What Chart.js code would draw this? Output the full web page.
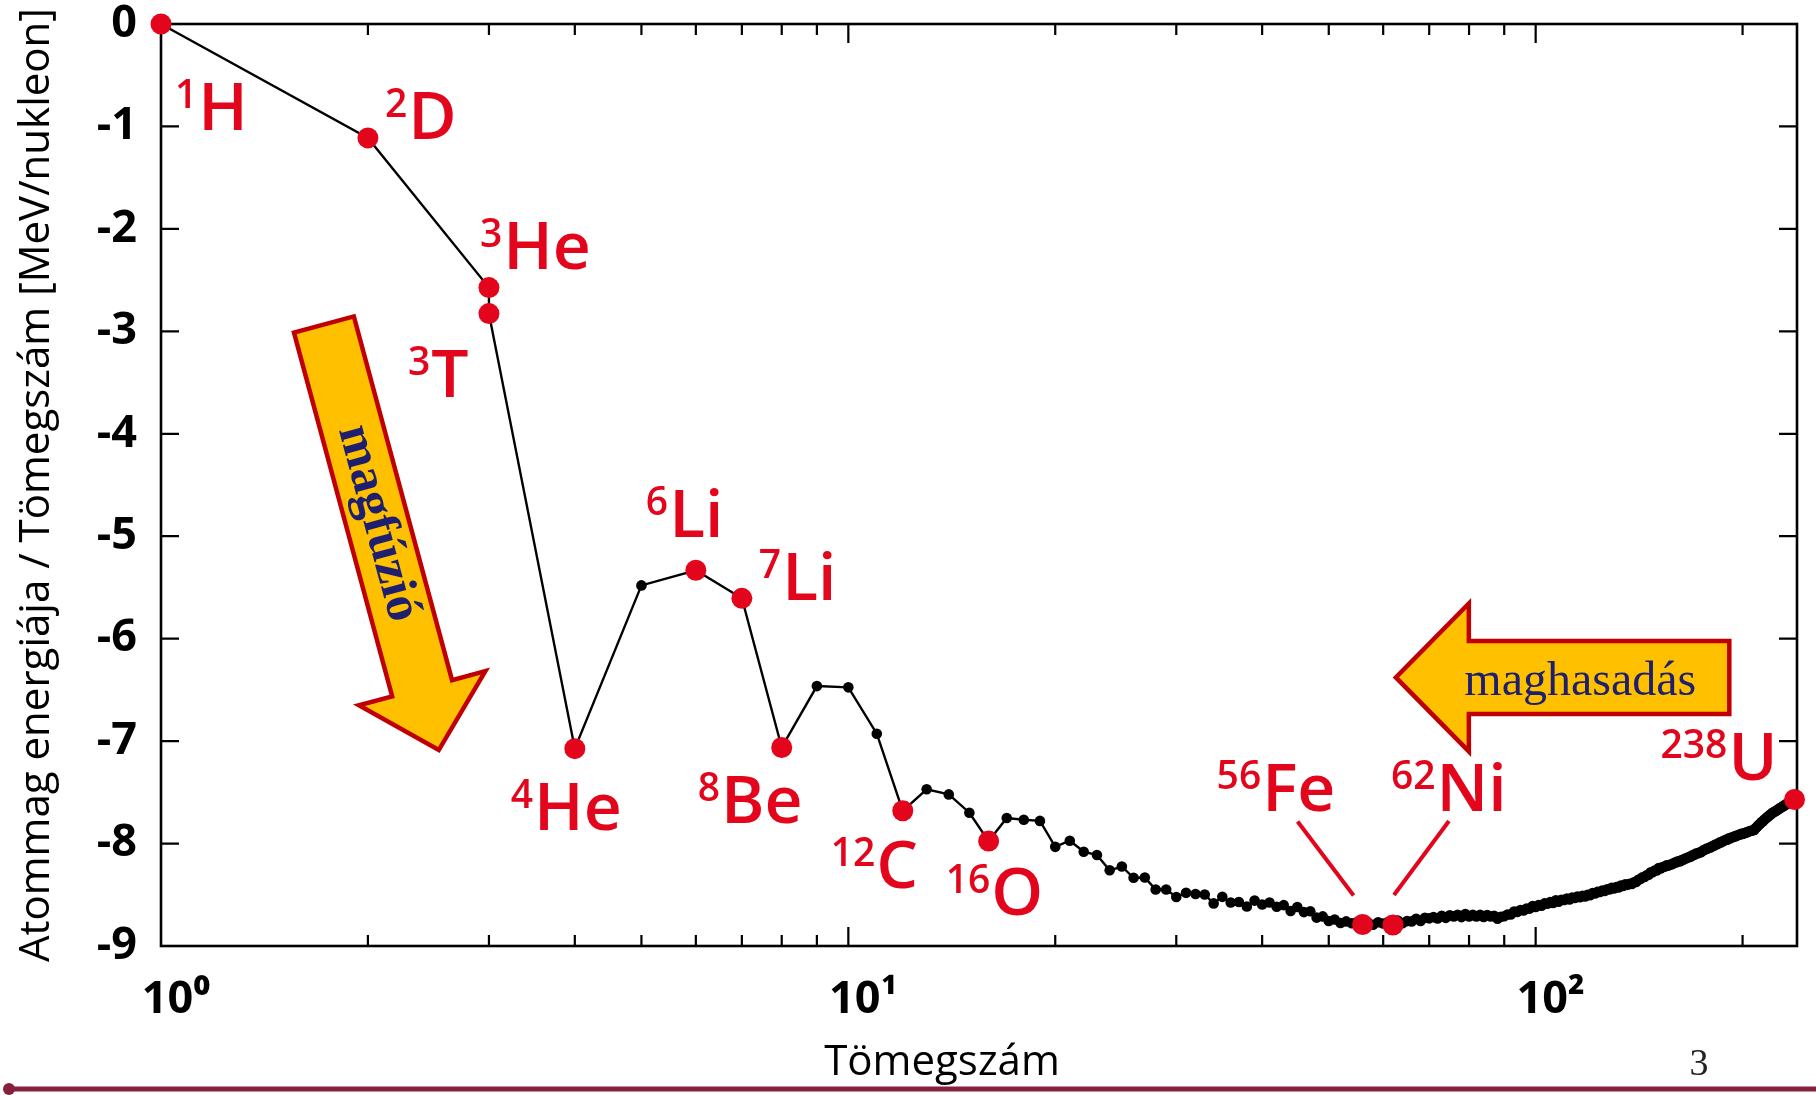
<!DOCTYPE html>
<html>
<head>
<meta charset="utf-8">
<script src="https://cdn.jsdelivr.net/npm/chart.js@4.4.1/dist/chart.umd.min.js"></script>
<style>
html,body{margin:0;padding:0;background:#fff;overflow:hidden}
canvas{display:block}
</style>
</head>
<body>
<canvas id="c" width="1816" height="1095"></canvas>
<script>
// ---------- DATA ----------
const massNumber = [
  1,2,3,3,4,5,6,7,8,9,10,
  11,12,13,14,15,16,17,18,19,20,
  21,22,23,24,25,26,27,28,29,30,
  31,32,33,34,35,36,37,38,39,40,
  41,42,43,44,45,46,47,48,49,50,
  51,52,53,54,55,56,57,58,59,60,
  61,62,63,64,65,66,67,68,69,70,
  71,72,73,74,75,76,77,78,79,80,
  81,82,83,84,85,86,87,88,89,90,
  91,92,93,94,95,96,97,98,99,100,
  101,102,103,104,105,106,107,108,109,110,
  111,112,113,114,115,116,117,118,119,120,
  121,122,123,124,125,126,127,128,129,130,
  131,132,133,134,135,136,137,138,139,140,
  141,142,143,144,145,146,147,148,149,150,
  151,152,153,154,155,156,157,158,159,160,
  161,162,163,164,165,166,167,168,169,170,
  171,172,173,174,175,176,177,178,179,180,
  181,182,183,184,185,186,187,188,189,190,
  191,192,193,194,195,196,197,198,199,200,
  201,202,203,204,205,206,207,208,209,210,
  211,212,213,214,215,216,217,218,219,220,
  221,222,223,224,225,226,227,228,229,230,
  231,232,233,234,235,236,237,238
];
// energy per nucleon [MeV/nukleon]
const energyPerNucleon = [
  0, -1.112, -2.573, -2.827,
  -7.074, -5.48, -5.332, -5.606, -7.062, -6.463, -6.475,
  -6.928, -7.680, -7.470, -7.520, -7.699, -7.976, -7.751, -7.767, -7.779, -8.032,
  -7.972, -8.080, -8.112, -8.261, -8.224, -8.334, -8.332, -8.448, -8.449, -8.521,
  -8.481, -8.493, -8.498, -8.584, -8.520, -8.575, -8.570, -8.614, -8.557, -8.595,
  -8.576, -8.617, -8.601, -8.658, -8.619, -8.669, -8.661, -8.723, -8.711, -8.756,
  -8.742, -8.776, -8.760, -8.778, -8.765, -8.790, -8.770, -8.792, -8.768, -8.781,
  -8.765, -8.795, -8.752, -8.777, -8.757, -8.760, -8.734, -8.756, -8.725, -8.730,
  -8.718, -8.732, -8.705, -8.725, -8.701, -8.711, -8.695, -8.718, -8.688, -8.711,
  -8.696, -8.711, -8.696, -8.717, -8.697, -8.712, -8.705, -8.733, -8.714, -8.710,
  -8.693, -8.693, -8.664, -8.667, -8.649, -8.654, -8.635, -8.635, -8.609, -8.620,
  -8.601, -8.607, -8.584, -8.587, -8.571, -8.580, -8.554, -8.567, -8.548, -8.551,
  -8.537, -8.545, -8.527, -8.532, -8.517, -8.523, -8.510, -8.517, -8.499, -8.505,
  -8.482, -8.488, -8.472, -8.473, -8.458, -8.463, -8.446, -8.449, -8.431, -8.438,
  -8.424, -8.428, -8.410, -8.414, -8.398, -8.403, -8.392, -8.394, -8.378, -8.376,
  -8.354, -8.347, -8.330, -8.327, -8.309, -8.304, -8.281, -8.280, -8.263, -8.262,
  -8.239, -8.244, -8.229, -8.227, -8.213, -8.215, -8.204, -8.202, -8.189, -8.184,
  -8.173, -8.174, -8.162, -8.159, -8.147, -8.142, -8.132, -8.130, -8.115, -8.112,
  -8.098, -8.097, -8.087, -8.084, -8.069, -8.064, -8.052, -8.049, -8.039, -8.035,
  -8.023, -8.018, -8.008, -8.005, -7.991, -7.989, -7.978, -7.973, -7.963, -7.963,
  -7.948, -7.949, -7.938, -7.936, -7.927, -7.927, -7.916, -7.914, -7.905, -7.906,
  -7.898, -7.897, -7.887, -7.886, -7.878, -7.875, -7.870, -7.868, -7.848, -7.836,
  -7.820, -7.810, -7.791, -7.785, -7.768, -7.759, -7.744, -7.737, -7.721, -7.714,
  -7.700, -7.694, -7.685, -7.680, -7.667, -7.662, -7.651, -7.645, -7.635, -7.631,
  -7.618, -7.615, -7.604, -7.601, -7.591, -7.586, -7.575, -7.570
];
// highlighted nuclei (index into the arrays above)
const highlightIndex  = [0, 1, 2, 3, 4, 6, 7, 8, 12, 16, 56, 62, 238];
const highlightSymbol = ['H','D','He','T','He','Li','Li','Be','C','O','Fe','Ni','U'];

const xMajorTicks = [1, 10, 100];
const xTickLabels = ['10\u2070', '10\u00B9', '10\u00B2'];
const yTickValues = [0, -1, -2, -3, -4, -5, -6, -7, -8, -9];
const yTickLabels = ['0', '-1', '-2', '-3', '-4', '-5', '-6', '-7', '-8', '-9'];

const xTitle = 'Tömegszám';
const yTitle = 'Atommag energiája / Tömegszám [MeV/nukleon]';
const fusionText = 'magfúzió';
const fissionText = 'maghasadás';
const pageNumber = '3';

// arrows, anchored in data coordinates [A, E]
const fusionArrow  = { from: [1.726, -2.933], to: [2.536, -7.087] };
const fissionArrow = { from: [191.3, -6.378], to: [62.6, -6.378] };

// ---------- STYLE / LAYOUT ----------
const RED = '#E3051B';
const NAVY = '#1E1F6F';
const ARROW_FILL = '#FFC000';
const ARROW_STROKE = '#C00000';
const SANS = '"Open Sans", "Noto Sans", sans-serif';
const SERIF = '"Liberation Serif", "Times New Roman", serif';

// label placement: [dx of superscript left edge, dy of baseline] relative to the point, px
const labelOffsets = [
  [14, 106], [17, 1], [-9, -19], [-81, 83], [-64, 81], [-50, -33], [17, 2],
  [-84, 76], [-72, 77], [-43, 74], [-146, -113], [-2, -114], [-134, -20]
];
// leader lines for Fe and Ni: [x0,y0,x1,y1] relative to the point
const leaderLines = { 10: [-65, -103, -9, -29], 11: [56, -104, 1, -30] };

const LABEL_MAIN = 66, LABEL_SUP = 39, SUP_RAISE = 22, SUP_GAP = 1;

function arrowPoly(ctx, x0, y0, x1, y1, shaftW, headW, headL) {
  const dx = x1 - x0, dy = y1 - y0, L = Math.hypot(dx, dy);
  const ux = dx / L, uy = dy / L, nx = -uy, ny = ux;
  const bx = x1 - ux * headL, by = y1 - uy * headL;
  const p = [
    [x0 + nx * shaftW / 2, y0 + ny * shaftW / 2],
    [bx + nx * shaftW / 2, by + ny * shaftW / 2],
    [bx + nx * headW / 2, by + ny * headW / 2],
    [x1, y1],
    [bx - nx * headW / 2, by - ny * headW / 2],
    [bx - nx * shaftW / 2, by - ny * shaftW / 2],
    [x0 - nx * shaftW / 2, y0 - ny * shaftW / 2]
  ];
  ctx.beginPath();
  ctx.moveTo(p[0][0], p[0][1]);
  for (let i = 1; i < p.length; i++) ctx.lineTo(p[i][0], p[i][1]);
  ctx.closePath();
  ctx.fillStyle = ARROW_FILL;
  ctx.fill();
  ctx.lineWidth = 4.5;
  ctx.lineJoin = 'miter';
  ctx.strokeStyle = ARROW_STROKE;
  ctx.stroke();
  return { ux, uy, L };
}

const decorPlugin = {
  id: 'decor',
  beforeDatasetsDraw(chart) {
    const { ctx, chartArea: a, scales: { x, y } } = chart;
    ctx.save();
    ctx.strokeStyle = '#000';
    ctx.lineWidth = 2.6;
    ctx.strokeRect(a.left, a.top, a.right - a.left, a.bottom - a.top);
    ctx.lineWidth = 2.2;
    ctx.beginPath();
    for (const d of xMajorTicks) {
      for (let m = 1; m <= 9; m++) {
        const v = m * d;
        if (v <= x.min || v >= x.max) continue;
        const px = x.getPixelForValue(v);
        const len = m === 1 ? 19 : 11;
        ctx.moveTo(px, a.bottom); ctx.lineTo(px, a.bottom - len);
        ctx.moveTo(px, a.top); ctx.lineTo(px, a.top + len);
      }
    }
    for (const v of yTickValues) {
      if (v <= y.min || v >= y.max) continue;
      const py = y.getPixelForValue(v);
      ctx.moveTo(a.left, py); ctx.lineTo(a.left + 18, py);
      ctx.moveTo(a.right, py); ctx.lineTo(a.right - 18, py);
    }
    ctx.stroke();
    ctx.restore();
  },
  afterDatasetsDraw(chart) {
    const { ctx, scales: { x, y } } = chart;
    ctx.save();
    // fusion arrow
    let x0 = x.getPixelForValue(fusionArrow.from[0]), y0 = y.getPixelForValue(fusionArrow.from[1]);
    let x1 = x.getPixelForValue(fusionArrow.to[0]), y1 = y.getPixelForValue(fusionArrow.to[1]);
    let g = arrowPoly(ctx, x0, y0, x1, y1, 62, 131, 64);
    ctx.save();
    ctx.translate(x0 + g.ux * 206, y0 + g.uy * 206);
    ctx.rotate(Math.atan2(g.uy, g.ux));
    ctx.fillStyle = NAVY;
    ctx.font = 'bold 51px ' + SERIF;
    ctx.textAlign = 'center';
    ctx.textBaseline = 'middle';
    ctx.fillText(fusionText, 0, 0);
    ctx.restore();
    // fission arrow
    x0 = x.getPixelForValue(fissionArrow.from[0]); y0 = y.getPixelForValue(fissionArrow.from[1]);
    x1 = x.getPixelForValue(fissionArrow.to[0]); y1 = y.getPixelForValue(fissionArrow.to[1]);
    g = arrowPoly(ctx, x0, y0, x1, y1, 73, 148, 73);
    ctx.fillStyle = NAVY;
    ctx.font = '48px ' + SERIF;
    ctx.textAlign = 'center';
    ctx.textBaseline = 'alphabetic';
    ctx.fillText(fissionText, x0 + g.ux * 149, y0 + 17.5);

    // nuclide labels
    ctx.fillStyle = RED;
    ctx.strokeStyle = RED;
    ctx.textAlign = 'left';
    ctx.textBaseline = 'alphabetic';
    highlightIndex.forEach((idx, k) => {
      const px = x.getPixelForValue(massNumber[idx]);
      const py = y.getPixelForValue(energyPerNucleon[idx]);
      const [dx, dy] = labelOffsets[k];
      const sup = String(massNumber[idx]);
      ctx.font = '600 ' + LABEL_SUP + 'px ' + SANS;
      const w = ctx.measureText(sup).width;
      ctx.fillText(sup, px + dx, py + dy - SUP_RAISE);
      ctx.font = '600 ' + LABEL_MAIN + 'px ' + SANS;
      ctx.fillText(highlightSymbol[k], px + dx + w + SUP_GAP, py + dy);
      if (leaderLines[k]) {
        const l = leaderLines[k];
        ctx.lineWidth = 4;
        ctx.beginPath();
        ctx.moveTo(px + l[0], py + l[1]);
        ctx.lineTo(px + l[2], py + l[3]);
        ctx.stroke();
      }
    });
    ctx.restore();
  },
  afterDraw(chart) {
    const { ctx, chartArea: a } = chart;
    ctx.save();
    ctx.fillStyle = '#000';
    ctx.font = '42px ' + SANS;
    ctx.textAlign = 'center';
    ctx.textBaseline = 'alphabetic';
    ctx.fillText(xTitle, a.left + 781, 1075);
    ctx.fillStyle = '#222';
    ctx.font = '38px ' + SERIF;
    ctx.fillText(pageNumber, 1699, 1075);
    // footer rule
    ctx.strokeStyle = '#86203D';
    ctx.fillStyle = '#86203D';
    ctx.lineWidth = 5;
    ctx.beginPath();
    ctx.moveTo(9, 1089); ctx.lineTo(1816, 1089);
    ctx.stroke();
    ctx.beginPath();
    ctx.arc(9, 1089, 6, 0, Math.PI * 2);
    ctx.fill();
    ctx.restore();
  }
};

const points = massNumber.map((a, i) => ({ x: a, y: energyPerNucleon[i] }));
const highlighted = highlightIndex.map(i => ({ x: massNumber[i], y: energyPerNucleon[i] }));

function noEdgePadding(s) {
  s.paddingTop = 0; s.paddingBottom = 0; s.paddingLeft = 0; s.paddingRight = 0;
}

new Chart(document.getElementById('c'), {
  type: 'line',
  data: {
    datasets: [
      {
        label: 'Kiemelt magok',
        data: highlighted,
        showLine: false,
        pointRadius: 10.5,
        pointBackgroundColor: RED,
        pointBorderWidth: 0,
        clip: false,
        order: 0
      },
      {
        label: 'Atommag energiája / Tömegszám',
        data: points,
        borderColor: '#000',
        borderWidth: 2.4,
        pointRadius: 5.3,
        pointBackgroundColor: '#000',
        pointBorderWidth: 0,
        tension: 0,
        clip: false,
        order: 1
      }
    ]
  },
  options: {
    responsive: false,
    animation: false,
    devicePixelRatio: 1,
    layout: { padding: { top: 24, right: 19, left: 0, bottom: 0 } },
    plugins: { legend: { display: false }, tooltip: { enabled: false } },
    scales: {
      x: {
        type: 'logarithmic',
        min: 1,
        max: 240,
        grid: { display: false, drawTicks: false },
        border: { display: false },
        afterBuildTicks: s => { s.ticks = xMajorTicks.map(v => ({ value: v, major: true })); },
        afterFit: s => { s.height = 149; noEdgePadding(s); },
        ticks: {
          autoSkip: false, maxRotation: 0, minRotation: 0,
          callback: v => { const i = xMajorTicks.indexOf(v); return i >= 0 ? xTickLabels[i] : ''; },
          font: { family: SANS, weight: 'bold', size: 45 },
          color: '#000',
          padding: 27,
          labelOffset: 15
        }
      },
      y: {
        type: 'linear',
        min: -9,
        max: 0,
        grid: { display: false, drawTicks: false },
        border: { display: false },
        afterBuildTicks: s => { s.ticks = yTickValues.map(v => ({ value: v })); },
        afterFit: s => { s.width = 161; noEdgePadding(s); },
        ticks: {
          callback: v => { const i = yTickValues.indexOf(v); return i >= 0 ? yTickLabels[i] : ''; },
          font: { family: SANS, weight: 'bold', size: 45 },
          color: '#000',
          padding: 24
        },
        title: {
          display: true,
          text: yTitle,
          color: '#000',
          font: { family: SANS, size: 42, weight: 'normal' },
          padding: { top: 12, bottom: 0 }
        }
      }
    }
  },
  plugins: [decorPlugin]
});
</script>
</body>
</html>
